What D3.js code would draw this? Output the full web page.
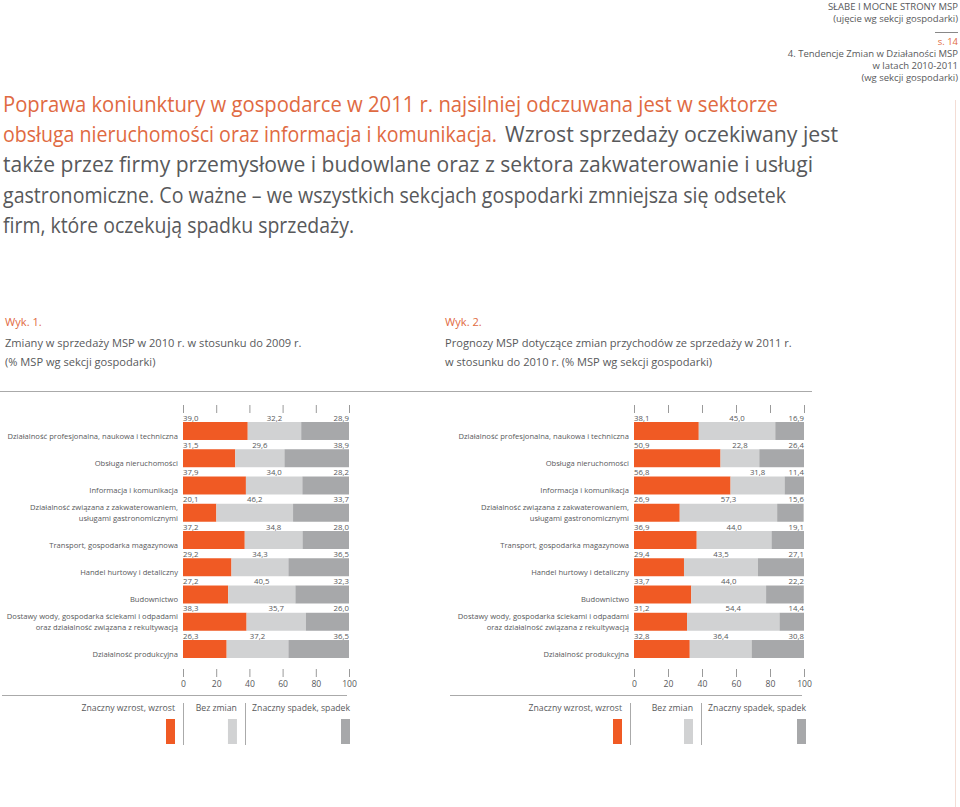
<!DOCTYPE html>
<html>
<head>
<meta charset="utf-8">
<script src="https://cdn.jsdelivr.net/npm/d3@7"></script>
<style>
  html, body { margin: 0; padding: 0; overflow: hidden; background: #fff; }
  svg { display: block; font-family: "Open Sans", sans-serif; }
</style>
</head>
<body>
<div id="chart"></div>
<script>
// sectors (same order in both charts)
var categories = [
  "Działalność profesjonalna, naukowa i techniczna",
  "Obsługa nieruchomości",
  "Informacja i komunikacja",
  "Działalność związana z zakwaterowaniem,|usługami gastronomicznymi",
  "Transport, gospodarka magazynowa",
  "Handel hurtowy i detaliczny",
  "Budownictwo",
  "Dostawy wody, gospodarka ściekami i odpadami|oraz działalność związana z rekultywacją",
  "Działalność produkcyjna"
];

// Wyk. 1 - 2010 vs 2009
var wzrost2010 = [39.0, 31.5, 37.9, 20.1, 37.2, 29.2, 27.2, 38.3, 26.3];
var bezZmian2010 = [32.2, 29.6, 34.0, 46.2, 34.8, 34.3, 40.5, 35.7, 37.2];
var spadek2010 = [28.9, 38.9, 28.2, 33.7, 28.0, 36.5, 32.3, 26.0, 36.5];

// Wyk. 2 - prognoza 2011 vs 2010
var wzrost2011 = [38.1, 50.9, 56.8, 26.9, 36.9, 29.4, 33.7, 31.2, 32.8];
var bezZmian2011 = [45.0, 22.8, 31.8, 57.3, 44.0, 43.5, 44.0, 54.4, 36.4];
var spadek2011 = [16.9, 26.4, 11.4, 15.6, 19.1, 27.1, 22.2, 14.4, 30.8];

var tickValues = [0, 20, 40, 60, 80, 100];
var legendLabels = ["Znaczny wzrost, wzrost", "Bez zmian", "Znaczny spadek, spadek"];
var seriesColors = ["#f05a24", "#d1d2d3", "#a7a8aa"];

var orange = "#df6a42";
var textGray = "#58595b";

var svg = d3.select("#chart").append("svg")
    .attr("width", 960)
    .attr("height", 807);

// --- header (top right)
var header = [
  {t: "SŁABE I MOCNE STRONY MSP", y: 10, c: textGray},
  {t: "(ujęcie wg sekcji gospodarki)", y: 22, c: textGray},
  {t: "s. 14", y: 45, c: orange},
  {t: "4. Tendencje Zmian w Działaności MSP", y: 57, c: textGray},
  {t: "w latach 2010-2011", y: 69, c: textGray},
  {t: "(wg sekcji gospodarki)", y: 81, c: textGray}
];
svg.selectAll(".hdr").data(header).enter().append("text")
    .attr("class", "hdr")
    .attr("x", 958)
    .attr("y", function(d) { return d.y; })
    .attr("text-anchor", "end")
    .style("font-size", "9.5px")
    .style("fill", function(d) { return d.c; })
    .text(function(d) { return d.t; });
svg.append("line")
    .attr("x1", 935).attr("x2", 958).attr("y1", 32.5).attr("y2", 32.5)
    .attr("stroke", "#888").attr("stroke-width", 1);

// faint page edge
svg.append("line")
    .attr("x1", 955.5).attr("x2", 955.5).attr("y1", 100).attr("y2", 807)
    .attr("stroke", "#f3ddd5").attr("stroke-width", 1);

// --- lead paragraph
var para = [
  {t: "Poprawa koniunktury w gospodarce w 2011 r. najsilniej odczuwana jest w sektorze", x: 3, w: 775, y: 112, c: orange},
  {t: "obsługa nieruchomości oraz informacja i komunikacja.", x: 3, w: 494, y: 142, c: orange},
  {t: "Wzrost sprzedaży oczekiwany jest", x: 505, w: 333, y: 142, c: textGray},
  {t: "także przez firmy przemysłowe i budowlane oraz z sektora zakwaterowanie i usługi", x: 3, w: 810, y: 172, c: textGray},
  {t: "gastronomiczne. Co ważne – we wszystkich sekcjach gospodarki zmniejsza się odsetek", x: 3, w: 783, y: 203, c: textGray},
  {t: "firm, które oczekują spadku sprzedaży.", x: 3, w: 351, y: 233, c: textGray}
];
svg.selectAll(".para").data(para).enter().append("text")
    .attr("class", "para")
    .attr("x", function(d) { return d.x; })
    .attr("y", function(d) { return d.y; })
    .attr("textLength", function(d) { return d.w; })
    .attr("lengthAdjust", "spacingAndGlyphs")
    .style("font-size", "21px")
    .style("fill", function(d) { return d.c; })
    .text(function(d) { return d.t; });

// --- chart titles
function chartTitle(x, lines) {
  svg.append("text").attr("x", x).attr("y", 326)
      .style("font-size", "11.1px").style("fill", orange).text(lines[0]);
  svg.append("text").attr("x", x).attr("y", 347)
      .style("font-size", "11.1px").style("fill", textGray).text(lines[1]);
  svg.append("text").attr("x", x).attr("y", 366)
      .style("font-size", "11.1px").style("fill", textGray).text(lines[2]);
}
chartTitle(5, ["Wyk. 1.", "Zmiany w sprzedaży MSP w 2010 r. w stosunku do 2009 r.", "(% MSP wg sekcji gospodarki)"]);
chartTitle(445, ["Wyk. 2.", "Prognozy MSP dotyczące zmian przychodów ze sprzedaży w 2011 r.", "w stosunku do 2010 r. (% MSP wg sekcji gospodarki)"]);

// top rule over both charts
svg.append("line")
    .attr("x1", 0).attr("x2", 812).attr("y1", 391.5).attr("y2", 391.5)
    .attr("stroke", "#aaa").attr("stroke-width", 1);

drawChart(183, 349, [wzrost2010, bezZmian2010, spadek2010], 2);
drawChart(634, 804, [wzrost2011, bezZmian2011, spadek2011], 450);

function drawChart(x0, x1, series, ruleLeft) {
  var x = d3.scaleLinear().domain([0, 100]).range([x0, x1]);
  var y = d3.scaleBand()
      .domain(d3.range(categories.length))
      .range([422, 658])
      .paddingInner(0.34)
      .paddingOuter(0);

  var rows = categories.map(function(c, i) {
    var a = series[0][i], b = series[1][i], s = series[2][i];
    return {i: i, name: c, segs: [
      {x0: 0, x1: a, v: a, k: 0},
      {x0: a, x1: a + b, v: b, k: 1},
      {x0: a + b, x1: Math.min(100, a + b + s), v: s, k: 2}
    ]};
  });

  var g = svg.append("g");

  // top ticks (no labels)
  g.append("g")
      .attr("transform", "translate(0,413)")
      .call(d3.axisTop(x).tickValues(tickValues).tickSize(8).tickFormat(""))
      .call(function(a) { a.select(".domain").remove(); })
      .selectAll("line").attr("stroke", "#9a9a9a");

  // bottom ticks with labels
  var bx = g.append("g")
      .attr("transform", "translate(0,669)")
      .call(d3.axisBottom(x).tickValues(tickValues).tickSize(8).tickPadding(4))
      .call(function(a) { a.select(".domain").remove(); });
  bx.selectAll("line").attr("stroke", "#9a9a9a");
  bx.selectAll("text")
      .style("font-family", "'Open Sans', sans-serif")
      .style("font-size", "8.6px")
      .style("fill", textGray);

  var row = g.selectAll(".row").data(rows).enter().append("g")
      .attr("class", "row")
      .attr("transform", function(d) { return "translate(0," + y(d.i) + ")"; });

  row.selectAll("rect").data(function(d) { return d.segs; }).enter().append("rect")
      .attr("x", function(d) { return x(d.x0); })
      .attr("width", function(d) { return x(d.x1) - x(d.x0); })
      .attr("y", 0)
      .attr("height", y.bandwidth())
      .attr("fill", function(d) { return seriesColors[d.k]; });

  // value labels above each bar
  row.selectAll(".val").data(function(d) { return d.segs; }).enter().append("text")
      .attr("class", "val")
      .attr("x", function(d) {
        if (d.k === 0) return x(0);
        if (d.k === 2) return x(100);
        return (x(d.x0) + x(d.x1)) / 2;
      })
      .attr("y", -1.5)
      .attr("text-anchor", function(d) { return ["start", "middle", "end"][d.k]; })
      .style("font-size", "7.8px")
      .style("fill", textGray)
      .text(function(d) { return d3.format(".1f")(d.v).replace(".", ","); });

  // category labels
  row.each(function(d) {
    var lines = d.name.split("|");
    var t = d3.select(this).append("text")
        .attr("text-anchor", "end")
        .style("font-size", "7.6px")
        .style("fill", textGray);
    lines.forEach(function(l, j) {
      t.append("tspan")
          .attr("x", x0 - 5)
          .attr("y", y.bandwidth() - 1 - (lines.length - 1 - j) * 10.5)
          .text(l);
    });
  });

  // bottom rule
  g.append("line")
      .attr("x1", ruleLeft).attr("x2", x1 - 2).attr("y1", 695.5).attr("y2", 695.5)
      .attr("stroke", "#aaa").attr("stroke-width", 1);

  // legend: text right-aligned with its swatch, separators in between
  var legendRight;
  if (ruleLeft > 100) legendRight = [x0 - 12, x(34.7), x1 + 2];
  else legendRight = [x0 - 8, x(32.5), x1 + 1];
  var lg = g.selectAll(".lg").data(legendLabels).enter().append("g").attr("class", "lg");
  lg.append("text")
      .attr("x", function(d, i) { return legendRight[i]; })
      .attr("y", 711)
      .attr("text-anchor", "end")
      .style("font-size", "8.7px")
      .style("fill", textGray)
      .text(function(d) { return d; });
  lg.append("rect")
      .attr("x", function(d, i) { return legendRight[i] - 9; })
      .attr("y", 719)
      .attr("width", 9)
      .attr("height", 25)
      .attr("fill", function(d, i) { return seriesColors[i]; });
  [legendRight[0] + 8, legendRight[1] + 8.5].forEach(function(sx) {
    g.append("line")
        .attr("x1", Math.round(sx) + 0.5).attr("x2", Math.round(sx) + 0.5)
        .attr("y1", 703).attr("y2", 745)
        .attr("stroke", "#aaa").attr("stroke-width", 1);
  });
}
</script>
</body>
</html>
